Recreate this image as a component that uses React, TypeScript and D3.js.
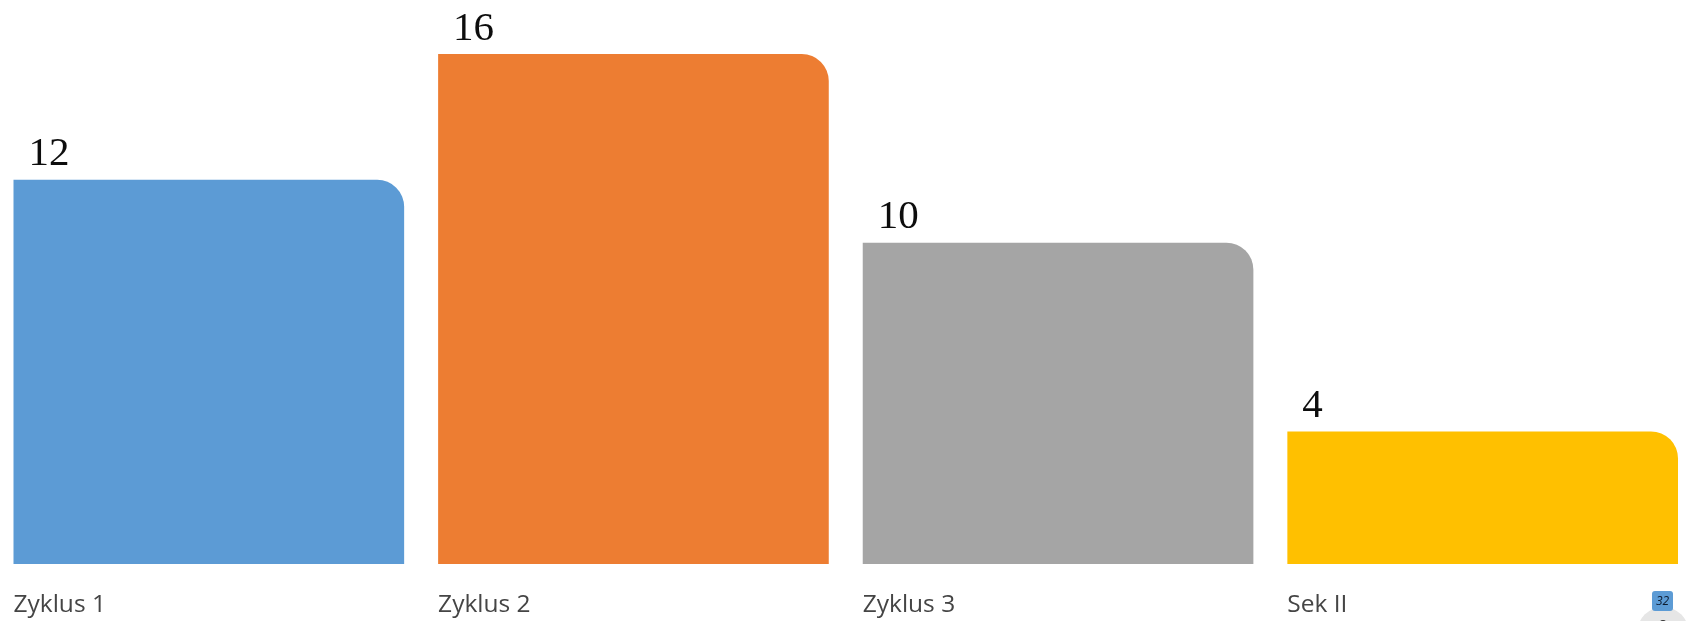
import React from "react";
import * as d3 from "d3";

const categories = ["Zyklus 1", "Zyklus 2", "Zyklus 3", "Sek II"];
const values = [12, 16, 10, 4];
const colors = ["#5b9bd5", "#ed7d31", "#a5a5a5", "#ffc000"];

const width = 1691;
const height = 621;
const baseline = 564;
const radius = 27;

const x = d3.scaleBand<string>().domain(categories).range([13.5, 1678]).paddingInner(0.08);
// the axis does not start at zero in the reference
const y = d3.scaleLinear().domain([-0.216, 16]).range([baseline, 54]);

// square corners except top right, which is rounded
const barPath = (x0: number, y0: number, w: number) => {
  const p = d3.path();
  p.moveTo(x0, baseline);
  p.lineTo(x0, y0);
  p.lineTo(x0 + w - radius, y0);
  p.arcTo(x0 + w, y0, x0 + w, y0 + radius, radius);
  p.lineTo(x0 + w, baseline);
  p.closePath();
  return p.toString();
};

export default function App() {
  return (
    <svg
      width={width}
      height={height}
      style={{ position: "absolute", top: 0, left: 0, background: "#fff" }}
    >
      <defs>
        <filter id="soft" x="-5%" y="-5%" width="110%" height="110%">
          <feGaussianBlur stdDeviation="0.7" />
        </filter>
      </defs>
      <g filter="url(#soft)">
        {categories.map((c, i) => (
          <g key={c}>
            <path d={barPath(x(c)!, y(values[i]), x.bandwidth())} fill={colors[i]} />
            <text
              x={x(c)! + 15}
              y={y(values[i]) - 14.5}
              fontFamily="Liberation Serif"
              fontSize={41}
              fill="#111"
            >
              {values[i]}
            </text>
            <text
              x={x(c)!}
              y={612}
              fontFamily="Open Sans"
              fontSize={24.5}
              fill="#444"
            >
              {c}
            </text>
          </g>
        ))}
        {/* little badge in the corner of the screenshot */}
        <circle cx={1663} cy={633} r={26} fill="#e6e6e6" />
        <rect x={1652} y={591} width={21} height={20} rx={3} fill="#5b9bd5" />
        <text
          x={1662.5}
          y={605}
          textAnchor="middle"
          fontFamily="Open Sans"
          fontSize={12}
          fontStyle="italic"
          fill="#0f1a2e"
        >
          32
        </text>
        <text x={1663} y={630} textAnchor="middle" fontFamily="Open Sans" fontSize={14} fill="#333">
          8
        </text>
      </g>
    </svg>
  );
}
